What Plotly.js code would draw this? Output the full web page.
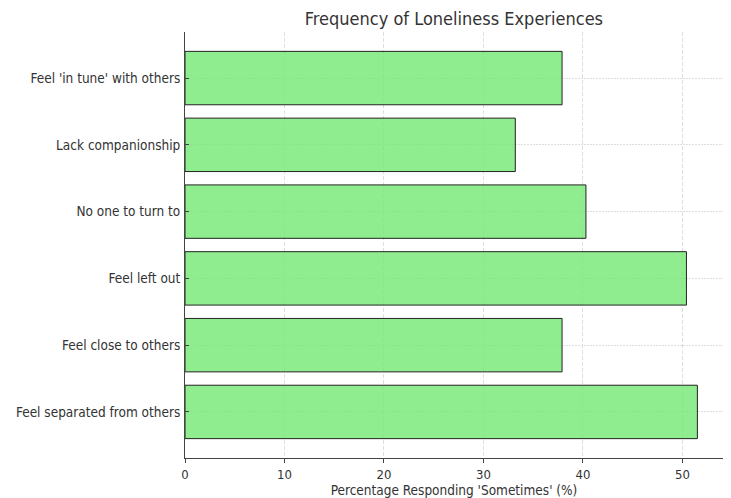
<!DOCTYPE html>
<html>
<head>
<meta charset="utf-8">
<script src="https://cdn.plot.ly/plotly-3.0.1.min.js"></script>
<style>html,body{margin:0;padding:0;background:#fff;}#chart{width:731px;height:498px;}</style>
</head>
<body>
<div id="chart"></div>
<script>
// Data (bottom to top, as drawn)
var categories = [
  "Feel separated from others",
  "Feel close to others",
  "Feel left out",
  "No one to turn to",
  "Lack companionship",
  "Feel 'in tune' with others"
];
var values = [51.5, 37.9, 50.4, 40.3, 33.2, 37.9];
var xTicks = [0, 10, 20, 30, 40, 50];

var FONT = "DejaVu Sans Condensed, DejaVu Sans, sans-serif";
var maxVal = Math.max.apply(null, values);

var trace = {
  type: "bar",
  orientation: "h",
  y: categories.map(function(_, i){ return i; }),
  x: values,
  width: 0.8,
  marker: {
    color: "rgba(118,233,118,0.82)",
    line: {color: "#222", width: 1}
  },
  hoverinfo: "x+y"
};

var layout = {
  width: 731,
  height: 498,
  margin: {l: 185, r: 8, t: 32, b: 40},
  paper_bgcolor: "#fff",
  plot_bgcolor: "#fff",
  showlegend: false,
  bargap: 0.2,
  title: {
    text: "Frequency of Loneliness Experiences",
    font: {family: FONT, size: 18, color: "#333"},
    x: 0.621, xanchor: "center",
    y: 0.962, yanchor: "middle"
  },
  xaxis: {
    range: [0, maxVal * 1.05],
    tickvals: xTicks,
    ticktext: xTicks.map(String),
    showgrid: true,
    gridcolor: "#d6d6d6",
    gridwidth: 0.8,
    griddash: "4px,2px",
    zeroline: false,
    showline: true,
    linecolor: "#444",
    linewidth: 1,
    ticks: "outside",
    ticklen: 4,
    tickcolor: "#444",
    tickfont: {family: FONT, size: 13, color: "#333"},
    title: {
      text: "Percentage Responding 'Sometimes' (%)",
      font: {family: FONT, size: 13.5, color: "#333"},
      standoff: 5
    },
    fixedrange: true
  },
  yaxis: {
    range: [-0.69, categories.length - 1 + 0.69],
    tickvals: categories.map(function(_, i){ return i; }),
    ticktext: categories,
    showgrid: true,
    gridcolor: "#d6d6d6",
    gridwidth: 0.8,
    griddash: "2px,1px",
    zeroline: false,
    showline: true,
    linecolor: "#444",
    linewidth: 1,
    ticks: "inside",
    ticklen: 3.5,
    tickcolor: "#444",
    ticklabelstandoff: 1,
    tickfont: {family: FONT, size: 13.5, color: "#333"},
    fixedrange: true
  }
};

Plotly.newPlot("chart", [trace], layout, {displayModeBar: false, staticPlot: true});
</script>
</body>
</html>
